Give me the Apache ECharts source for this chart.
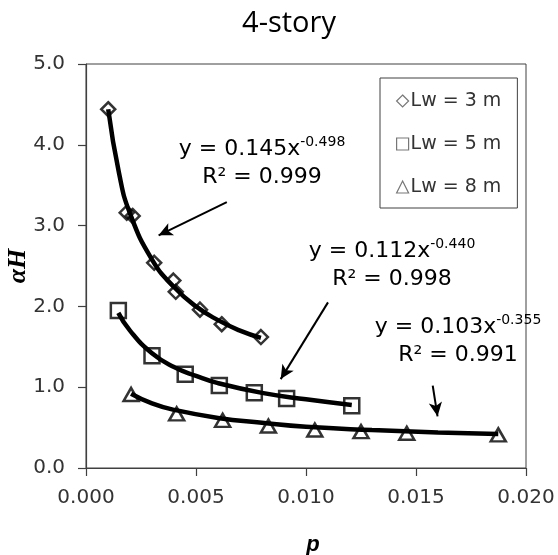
<!DOCTYPE html>
<html>
<head>
<meta charset="utf-8">
<script src="https://cdn.jsdelivr.net/npm/echarts@6/dist/echarts.min.js"></script>
<style>html,body{margin:0;padding:0;background:#fff}#c{width:558px;height:555px}</style>
</head>
<body>
<div id="c"></div>
<script>
// ---- data ----
var titleText = '4-story';
var seriesNames = ['Lw = 3 m', 'Lw = 5 m', 'Lw = 8 m'];
var xTicks = [0, 0.005, 0.010, 0.015, 0.020];
var yTicks = [0, 1, 2, 3, 4, 5];

var lw3Points = [[0.00101,4.44],[0.00185,3.16],[0.00212,3.12],[0.0031,2.54],[0.00397,2.32],[0.00408,2.18],[0.00518,1.96],[0.00617,1.78],[0.00795,1.62]];
var lw5Points = [[0.00147,1.95],[0.0030,1.39],[0.00451,1.16],[0.00606,1.02],[0.00765,0.93],[0.00912,0.86],[0.01208,0.77]];
var lw8Points = [[0.00205,0.91],[0.00412,0.67],[0.00621,0.59],[0.00829,0.52],[0.0104,0.47],[0.0125,0.45],[0.01458,0.43],[0.01874,0.41]];

// trend curves
var lw3Trend = [[0.00101,4.44],[0.0015,3.65],[0.002,3.15],[0.003,2.58],[0.004,2.24],[0.005,2.0],[0.006,1.83],[0.007,1.70],[0.00795,1.61]];
var lw5Trend = [[0.00147,1.92],[0.002,1.70],[0.003,1.42],[0.004,1.25],[0.005,1.14],[0.006,1.05],[0.008,0.93],[0.010,0.85],[0.01208,0.78]];
var lw8Trend = [[0.00205,0.92],[0.003,0.80],[0.004,0.72],[0.006,0.62],[0.008,0.56],[0.010,0.51],[0.013,0.47],[0.016,0.44],[0.01874,0.42]];

var fitLabels = [
  {coef: '0.145', exp: '-0.498', r2: '0.999'},
  {coef: '0.112', exp: '-0.440', r2: '0.998'},
  {coef: '0.103', exp: '-0.355', r2: '0.991'}
];
var arrowLines = [
  [[0.0064,3.29],[0.0033,2.88]],
  [[0.0110,2.05],[0.00885,1.10]],
  [[0.01576,1.02],[0.01598,0.64]]
];

// ---- chart ----
var chart = echarts.init(document.getElementById('c'));
var axisColor = '#404040';
var txtColor = '#333';
var markerStyle = {color: 'rgba(0,0,0,0)', borderColor: '#000', borderWidth: 2.5};

function fitText(f){
  return '{m|y = ' + f.coef + 'x}{s|' + f.exp + '}\n{m|R² = ' + f.r2 + '}';
}
var rich = {
  m: {fontFamily: 'DejaVu Sans', fontSize: 22, lineHeight: 28, color: '#000'},
  s: {fontFamily: 'DejaVu Sans', fontSize: 14, lineHeight: 28, verticalAlign: 'top', color: '#000'}
};
var labelPos = [[262,135],[392,237],[458,313]];

var option = {
  animation: false,
  backgroundColor: '#fff',
  title: {
    text: titleText, left: 284, textAlign: 'center', top: 4,
    textStyle: {fontFamily: 'Open Sans', fontSize: 29, fontWeight: 'normal', color: '#000'}
  },
  grid: {left: 86, right: 32, top: 64, bottom: 87, show: true, borderColor: axisColor, borderWidth: 1,
         containLabel: false, outerBoundsMode: 'none'},
  legend: {
    orient: 'vertical', left: 380, top: 78,
    data: [
      {name: seriesNames[0], icon: 'diamond'},
      {name: seriesNames[1], icon: 'rect'},
      {name: seriesNames[2], icon: 'triangle'}
    ],
    itemWidth: 12, itemHeight: 12, itemGap: 23,
    padding: [13, 16, 11, 16],
    borderColor: axisColor, borderWidth: 1, backgroundColor: '#fff',
    itemStyle: {color: '#fff', borderColor: '#555', borderWidth: 1.2},
    textStyle: {fontFamily: 'DejaVu Sans', fontSize: 19, color: txtColor, lineHeight: 20, padding: [0,0,0,-3]}
  },
  xAxis: {
    type: 'value', min: xTicks[0], max: xTicks[xTicks.length-1], interval: 0.005,
    name: 'p', nameLocation: 'middle', nameGap: 66,
    nameTextStyle: {fontFamily: 'Liberation Sans', fontStyle: 'italic', fontWeight: 'bold', fontSize: 22, color: '#000', padding: [0,0,0,14]},
    axisLine: {lineStyle: {color: axisColor, width: 1.2}},
    axisTick: {show: true, inside: false, length: 8, lineStyle: {color: axisColor, width: 1.2}},
    axisLabel: {margin: 20, fontFamily: 'DejaVu Sans', fontSize: 20, color: txtColor, formatter: function(v){return v.toFixed(3);}},
    splitLine: {show: false}
  },
  yAxis: {
    type: 'value', min: yTicks[0], max: yTicks[yTicks.length-1], interval: 1,
    name: 'αH', nameLocation: 'middle', nameGap: 55, nameRotate: 90, nameMoveOverlap: false,
    nameTextStyle: {fontFamily: 'Liberation Serif', fontStyle: 'italic', fontWeight: 'bold', fontSize: 26, color: '#000'},
    axisLine: {show: true, lineStyle: {color: axisColor, width: 1.2}},
    axisTick: {show: true, inside: false, length: 8, lineStyle: {color: axisColor, width: 1.2}},
    axisLabel: {margin: 21, fontFamily: 'DejaVu Sans', fontSize: 20, color: txtColor, formatter: function(v){return v.toFixed(1);}},
    splitLine: {show: false}
  },
  series: [
    {name: 'trend3', type: 'line', data: lw3Trend, smooth: true, symbol: 'none', lineStyle: {color: '#000', width: 4.5}, z: 2,
     markLine: {silent: true, symbol: ['none','arrow'], symbolSize: [10, 14], label: {show: false},
       lineStyle: {color: '#000', width: 2, type: 'solid'},
       data: arrowLines.map(function(a){return [{coord: a[0]}, {coord: a[1]}];})}},
    {name: 'trend5', type: 'line', data: lw5Trend, smooth: true, symbol: 'none', lineStyle: {color: '#000', width: 4.5}, z: 2},
    {name: 'trend8', type: 'line', data: lw8Trend, smooth: true, symbol: 'none', lineStyle: {color: '#000', width: 4.5}, z: 2},
    {name: seriesNames[0], type: 'scatter', data: lw3Points, symbol: 'diamond', symbolSize: [14, 14], itemStyle: markerStyle, z: 3},
    {name: seriesNames[1], type: 'scatter', data: lw5Points, symbol: 'rect', symbolSize: 15, itemStyle: markerStyle, z: 3},
    {name: seriesNames[2], type: 'scatter', data: lw8Points, symbol: 'triangle', symbolSize: [15, 13], itemStyle: markerStyle, z: 3}
  ],
  graphic: fitLabels.map(function(f, i){
    return {type: 'text', x: labelPos[i][0], y: labelPos[i][1], z: 10,
      style: {text: fitText(f), rich: rich, textAlign: 'center', textVerticalAlign: 'top', fill: '#000'}};
  })
};
chart.setOption(option);
</script>
</body>
</html>
